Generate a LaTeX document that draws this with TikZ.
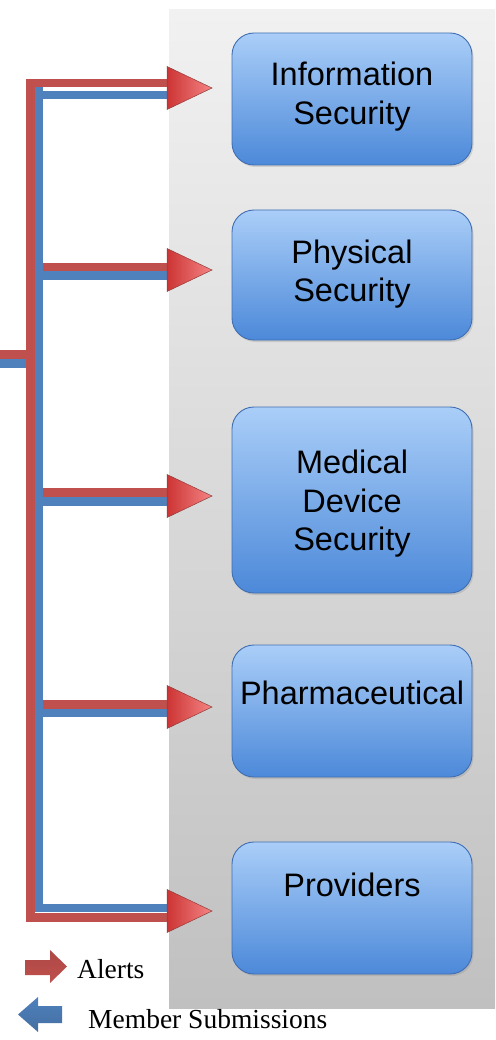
\documentclass[tikz,border=0pt]{standalone}
\usepackage{fontspec}
\setmainfont{Liberation Serif}
\newfontfamily\cajafont{Liberation Sans}
\usetikzlibrary{calc,shadows}

\definecolor{rojo}{HTML}{C0504D}
\definecolor{azul}{HTML}{4F81BD}
\definecolor{azulclaro}{HTML}{AACEF8}
\definecolor{azuloscuro}{HTML}{4C89D9}
\definecolor{bordeazul}{HTML}{3F6FB2}
\definecolor{grisalto}{HTML}{F1F1F1}
\definecolor{grisbajo}{HTML}{C0C0C0}
\definecolor{rosa}{HTML}{F7B9B7}
\definecolor{celeste}{HTML}{D2E6FA}
\definecolor{puntaosc}{HTML}{CC3434}
\definecolor{puntaclara}{HTML}{F58484}

\tikzset{
  alerta/.style={draw=rojo,line width=8.5pt},
  envio/.style={draw=azul,line width=8.5pt},
  caja/.style={rectangle,rounded corners=22pt,top color=azulclaro,bottom color=azuloscuro,
    draw=bordeazul,line width=0.9pt,minimum width=240pt,
    drop shadow={opacity=0.25,shadow xshift=1.5pt,shadow yshift=-2pt}},
  texto/.style={font=\cajafont\fontsize{32.5}{38.5}\selectfont,align=center,inner sep=0pt},
  leyenda/.style={font=\fontsize{27.5}{30}\selectfont,inner sep=0pt,anchor=base west},
  punta/.style={left color=puntaosc,right color=puntaclara,draw=rojo!75!black,line width=0.5pt}
}

\begin{document}
\begin{tikzpicture}[x=1pt,y=-1pt,line join=miter]
  \useasboundingbox (0,0) rectangle (495,1040);
  % panel gris de fondo
  \shade[top color=grisalto,bottom color=grisbajo] (169,10) rectangle (495,1008);

  % cajas de destino
  \node[caja,minimum height=132pt] (info)  at (352,99)  {};
  \node[caja,minimum height=130pt] (fisica) at (352,275) {};
  \node[caja,minimum height=186pt] (medica) at (352,500) {};
  \node[caja,minimum height=132pt] (farma) at (352,711) {};
  \node[caja,minimum height=132pt] (prove) at (352,908) {};
  \node[texto] (infoT)   at (352,96.5) {Information\\Security};
  \node[texto] (fisicaT) at (352,274)  {Physical\\Security};
  \node[texto] (medicaT) at (352,504)  {Medical\\Device\\Security};
  \node[texto] (farmaT)  at (352,693)  {Pharmaceutical};
  \node[texto] (proveT)  at (352,885)  {Providers};

  % puntas frente a cada caja y esquinas de los buses
  \foreach \i/\y in {1/88,2/270,3/496,4/707,5/911}
    \coordinate (t\i) at (167,\y);
  \coordinate (rA) at (30.5,83);  \coordinate (rB) at (30.5,917.5);
  \coordinate (bA) at (38.5,95);  \coordinate (bB) at (38.5,908);
  \coordinate (bE) at (42.5,95);
  \coordinate (inR) at (0,354.5); \coordinate (inB) at (0,363.5);

  % bus azul (envios)
  \draw[envio] (inB) -- (inB -| bA);
  \draw[envio] (bA) -- ($(bA)+(0,-8)$);
  \draw[envio] ($(t1)+(2,7)$) -- (bA) -- (bB) -- ($(t5)+(2,-3)$);
  % bus rojo (alertas)
  \draw[alerta] (inR) -- (inR -| rA);
  \draw[alerta] ($(t1)+(2,-5)$) -- (rA) -- (rB) -- ($(t5)+(2,6.5)$);
  % ramas intermedias
  \foreach \i/\dr/\db in {2/-3/5.5,3/-3.5/5.5,4/-2.5/6}{
    \draw[envio]  ($(bE|-t\i)+(0,\db)$) -- ($(t\i)+(2,\db)$);
    \draw[alerta] ($(bE|-t\i)+(0,\dr)$) -- ($(t\i)+(2,\dr)$);
  }
  \foreach \i in {1,...,5}
    \path[punta] (t\i) ++(0,-21.5) -- ++(45,21.5) -- ++(-45,21.5) -- cycle;

  % leyenda
  \path[top color=rojo!90!black,middle color=rosa,bottom color=rojo]
    (25,960) -- (50,960) -- (50,950) -- (67,966.5) -- (50,983) -- (50,975) -- (25,975) -- cycle;
  \node[leyenda] (alertsT) at (77,978) {Alerts};
  \path[top color=azul,middle color=celeste,bottom color=azul!85!black]
    (18,1014.5) -- (38,997) -- (38,1006) -- (62,1006) -- (62,1023) -- (38,1023) -- (38,1032) -- cycle;
  \node[leyenda] (memberT) at (88,1028) {Member Submissions};
\end{tikzpicture}
\end{document}
